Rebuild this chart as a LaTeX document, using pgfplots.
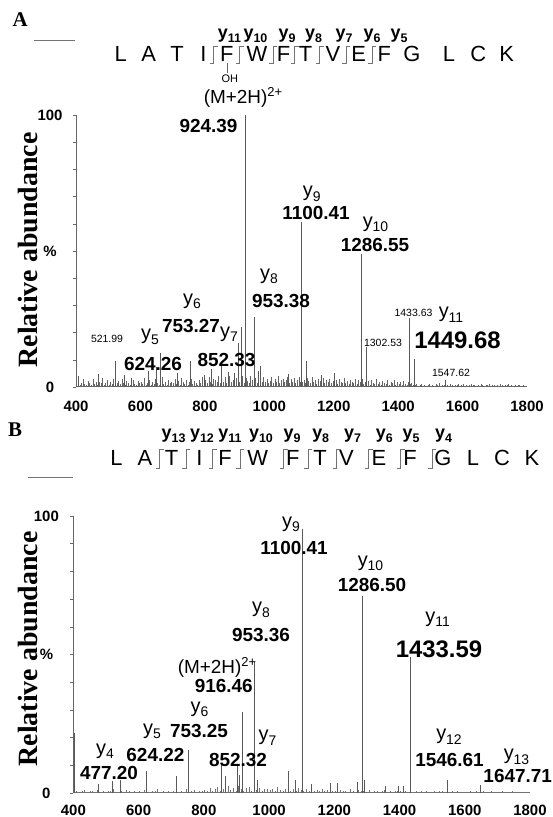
\documentclass[border=0pt]{standalone}
\usepackage{fontspec}
\setmainfont{Liberation Sans}
\newfontfamily\serifb{Liberation Serif}
\usepackage{pgfplots}
\pgfplotsset{compat=1.18}
\newcommand\fs[1]{\fontsize{#1}{#1}\selectfont}
\newcommand\yl[1]{y\raisebox{-4.5bp}{\fs{14}#1}}
\newcommand\yb[1]{y\raisebox{-3.5bp}{\fs{12.5}#1}}
\tikzset{lbl/.style={inner sep=0pt, outer sep=0pt, anchor=center}}
\pgfplotsset{msaxis/.style={
  anchor=south west, scale only axis,
  xmin=400, xmax=1800, ymin=0, ymax=100,
  axis y line*=left, axis x line*=bottom,
  x axis line style={draw=none},
  y axis line style={draw=black!60, line width=0.6bp, -},
  xtick={400,600,...,1800},
  xticklabels={400,600,800,1000,1200,1400,1600,1800},
  ytick={0,10,...,100},
  yticklabels={0,,,,,\%,,,,,100},
  xtick style={draw=none},
  ytick style={draw=black!60, line width=0.5bp},
  tick align=outside, major tick length=3bp,
  clip=false,
}}
\begin{document}
\begin{tikzpicture}
\useasboundingbox (0,0) rectangle (553bp,-817bp);

% ---------------- Panel A ----------------
\node[lbl,font=\serifb\bfseries\fs{21}] at (20.3bp,-19.5bp) {A};
\draw[black!55,line width=0.7bp] (33.7bp,-40bp) -- (75bp,-40bp);
\foreach \x/\c in {120.7/L,148.8/A,177/T,203.3/I,226.7/F,256.9/W,283.5/F,305.6/T,333/V,358.8/E,384.4/F,412/G,449/L,478.3/C,506.8/K}
  \node[lbl,font=\fs{22}] at (\x bp,-54bp) {\c};
\foreach \x in {213.5,239.5,273,294.5,319.5,346,372}
  \draw[black!55,line width=0.6bp] (\x bp-4bp,-63bp) -- (\x bp,-63bp) -- (\x bp,-46bp) -- (\x bp+4bp,-46bp);
\draw[black!60,line width=0.6bp] (226.8bp,-63.3bp) -- (226.8bp,-73bp);
\node[lbl,font=\fs{11}] at (229.8bp,-79bp) {OH};
\foreach \x/\n in {229.5/11,255.5/10,287/9,313.5/8,344/7,372/6,399/5}
  \node[lbl,font=\bfseries\fs{18}] at (\x bp,-36bp) {\yb{\n}};

\begin{axis}[msaxis, at={(76bp,-387bp)}, width=451bp, height=272bp,
  xticklabel style={font=\bfseries\fs{15}, anchor=center, yshift=-16bp},
  yticklabel style={font=\bfseries\fs{15}, anchor=center, xshift=-23bp}]
\addplot[ycomb, black!60, line width=0.42bp, mark=none] coordinates {
(402,1.2)(407,2.4)(412,0.8)(417,1.6)(422,3.1)(427,1.0)(432,0.6)(437,2.2)(442,1.4)(447,0.9)(452,2.8)(457,1.1)(462,1.7)(467,0.7)(472,2.0)(477,1.3)(482,3.4)(487,0.9)(492,1.5)(497,2.6)
(502,0.8)(507,1.9)(512,1.2)(517,2.9)(522,0.6)(527,1.4)(532,2.1)(537,1.0)(542,3.0)(547,1.6)(552,0.9)(557,2.3)(562,1.3)(567,0.7)(572,1.8)(577,2.7)(582,1.1)(587,0.8)(592,2.2)(597,1.5)
(602,2.0)(607,1.1)(612,3.3)(617,0.9)(622,1.6)(627,2.5)(632,0.7)(637,1.8)(642,1.2)(647,2.9)(652,1.4)(657,0.8)(662,2.2)(667,3.6)(672,1.0)(677,1.7)(682,0.6)(687,2.4)(692,1.3)(697,1.9)
(702,1.5)(707,2.8)(712,1.0)(717,2.1)(722,0.8)(727,3.2)(732,1.7)(737,1.2)(742,2.6)(747,0.9)(752,1.9)(757,3.0)(762,1.1)(767,2.3)(772,1.6)(777,0.7)(782,2.7)(787,1.4)(792,3.5)(797,1.2)
(802,2.6)(807,1.4)(812,3.8)(817,2.0)(822,1.2)(827,3.1)(832,2.4)(837,1.7)(842,4.2)(847,1.5)(852,2.9)(857,1.9)(862,3.6)(867,1.3)(872,2.2)(877,4.0)(882,1.8)(887,2.7)(892,1.6)(897,3.3)
(902,3.0)(907,1.8)(912,2.5)(917,4.1)(922,1.6)(927,3.4)(932,2.2)(937,1.4)(942,3.9)(947,2.7)(952,1.9)(957,3.2)(962,1.5)(967,4.4)(972,2.3)(977,1.7)(982,3.6)(987,2.0)(992,2.8)(997,1.6)
(1002,2.2)(1007,3.5)(1012,1.5)(1017,2.8)(1022,1.9)(1027,4.0)(1032,1.3)(1037,2.6)(1042,3.1)(1047,1.7)(1052,2.4)(1057,3.7)(1062,1.4)(1067,2.9)(1072,2.0)(1077,3.3)(1082,1.6)(1087,2.5)(1092,3.8)(1097,1.8)
(1102,1.9)(1107,2.7)(1112,1.3)(1117,3.2)(1122,2.1)(1127,1.5)(1132,3.6)(1137,1.8)(1142,2.4)(1147,1.2)(1152,3.0)(1157,2.2)(1162,1.6)(1167,3.4)(1172,1.4)(1177,2.6)(1182,1.9)(1187,3.1)(1192,1.3)(1197,2.3)
(1202,1.6)(1207,2.5)(1212,1.1)(1217,2.9)(1222,1.8)(1227,1.3)(1232,3.2)(1237,1.5)(1242,2.2)(1247,1.0)(1252,2.7)(1257,1.9)(1262,1.4)(1267,3.0)(1272,1.2)(1277,2.4)(1282,1.7)(1287,2.8)(1292,1.1)(1297,2.0)
(1302,1.3)(1307,2.1)(1312,0.9)(1317,2.6)(1322,1.5)(1327,1.1)(1332,2.8)(1337,1.2)(1342,1.9)(1347,0.8)(1352,2.3)(1357,1.6)(1362,1.0)(1367,2.5)(1372,0.9)(1377,2.0)(1382,1.4)(1387,2.4)(1392,0.8)(1397,1.7)
(1402,1.1)(1407,1.8)(1412,0.8)(1417,2.2)(1422,1.2)(1427,0.9)(1432,1.9)(1437,1.0)(1442,1.5)(1447,0.7)
(1452,0.6)(1457,1.0)(1462,0.4)(1467,0.8)(1472,1.2)(1477,0.5)(1482,0.9)(1487,0.3)(1492,0.7)(1497,1.1)
(1502,0.5)(1507,0.8)(1512,0.4)(1517,1.0)(1522,0.6)(1527,1.3)(1532,0.5)(1537,0.7)(1542,0.9)(1547,0.4)
(1552,0.8)(1557,0.5)(1562,1.1)(1567,0.6)(1572,0.3)(1577,0.9)(1582,0.7)(1587,1.2)(1592,0.4)(1597,0.6)
(1602,1.0)(1607,0.5)(1612,0.8)(1617,0.3)(1622,0.7)(1627,1.1)(1632,0.6)(1637,0.9)(1642,0.4)(1647,0.8)
(1652,0.5)(1657,1.2)(1662,0.6)(1667,0.4)(1672,0.9)(1677,0.7)(1682,1.0)(1687,0.3)(1692,0.6)(1697,0.8)
(1702,0.4)(1707,0.9)(1712,0.5)(1717,1.1)(1722,0.7)(1727,0.3)(1732,0.8)(1737,0.6)(1742,1.0)(1747,0.4)
(1752,0.7)(1757,0.5)(1762,0.9)(1767,0.3)(1772,0.6)(1777,0.8)(1782,0.4)(1787,0.7)(1792,0.5)(1797,0.3)
};
\addplot[black!60, line width=0.5bp, mark=none] coordinates {(400,0.4)(1800,0.4)};
\addplot[ycomb, black!65, line width=0.55bp, mark=none] coordinates {
(408,4)(470,4.8)(521.99,9.5)(549,4.5)(573,3.3)(624.26,5.8)(648,7.5)(663,12.5)(714,5)(753.27,9.4)(797,4.5)(819,6.5)(852.33,8.8)(874,5.5)(891,5)(903,16.3)(913,22)(924.39,100)(953.38,25.9)(965,6)(973,7.6)(1060,4.7)(1100.41,60.5)(1115,9.5)(1162,4.4)(1203,5)(1286.55,48.9)(1302.53,14.8)(1433.63,25.2)(1449.68,10.2)(1547.62,2.6)
};
\end{axis}
\node[lbl,rotate=90,font=\serifb\bfseries\fs{28}] at (28bp,-250bp) {Relative abundance};
\node[lbl,font=\fs{19}] at (243bp,-97bp) {(M+2H)\raisebox{7bp}{\fs{13}2+}};
\node[lbl,font=\bfseries\fs{19}] at (208.5bp,-125.7bp) {924.39};
\node[lbl,font=\fs{20}] at (311.8bp,-194bp) {\yl{9}};
\node[lbl,font=\bfseries\fs{19}] at (316bp,-213bp) {1100.41};
\node[lbl,font=\fs{20}] at (375.5bp,-224.5bp) {\yl{10}};
\node[lbl,font=\bfseries\fs{19}] at (375bp,-244.5bp) {1286.55};
\node[lbl,font=\fs{20}] at (269bp,-276.5bp) {\yl{8}};
\node[lbl,font=\bfseries\fs{19}] at (281bp,-301bp) {953.38};
\node[lbl,font=\fs{20}] at (192bp,-301.5bp) {\yl{6}};
\node[lbl,font=\bfseries\fs{19}] at (191bp,-325.5bp) {753.27};
\node[lbl,font=\fs{20}] at (229bp,-334bp) {\yl{7}};
\node[lbl,font=\bfseries\fs{19}] at (226.5bp,-359.5bp) {852.33};
\node[lbl,font=\fs{20}] at (150bp,-337bp) {\yl{5}};
\node[lbl,font=\bfseries\fs{19}] at (153bp,-364bp) {624.26};
\node[lbl,font=\fs{10.5}] at (107bp,-339bp) {521.99};
\node[lbl,font=\fs{10.5}] at (413.5bp,-313bp) {1433.63};
\node[lbl,font=\fs{20}] at (451bp,-314.5bp) {\yl{11}};
\node[lbl,font=\bfseries\fs{24}] at (457.5bp,-340.5bp) {1449.68};
\node[lbl,font=\fs{10.5}] at (383bp,-342.5bp) {1302.53};
\node[lbl,font=\fs{10.5}] at (451bp,-373bp) {1547.62};

% ---------------- Panel B ----------------
\node[lbl,font=\serifb\bfseries\fs{21}] at (15bp,-429.5bp) {B};
\draw[black!55,line width=0.7bp] (28.3bp,-477bp) -- (72.6bp,-477bp);
\foreach \x/\c in {116.5/L,145/A,171.5/T,199.5/I,225/F,257.8/W,292.8/F,320/T,346.5/V,379/E,410/F,443/G,473/L,502/C,532/K}
  \node[lbl,font=\fs{22}] at (\x bp,-458bp) {\c};
\foreach \x in {159.5,186,212.6,240,283.5,308,336.7,368.5,400.5,432}
  \draw[black!55,line width=0.6bp] (\x bp-4bp,-468bp) -- (\x bp,-468bp) -- (\x bp,-449bp) -- (\x bp+4bp,-449bp);
\foreach \x/\n in {173.6/13,202/12,230/11,261/10,292/9,320.7/8,352.6/7,384.4/6,411/5,443.6/4}
  \node[lbl,font=\bfseries\fs{18}] at (\x bp,-436bp) {\yb{\n}};

\begin{axis}[msaxis, at={(73.4bp,-793bp)}, width=456.6bp, height=277bp,
  xticklabel style={font=\bfseries\fs{15}, anchor=center, yshift=-14bp},
  yticklabel style={font=\bfseries\fs{15}, anchor=center, xshift=-24bp}]
\addplot[ycomb, black!55, line width=0.4bp, mark=none] coordinates {
(402,0.5)(410,0.9)(418,0.3)(426,0.7)(434,1.2)(442,0.4)(450,0.6)(458,0.8)(466,0.3)(474,1.0)(482,0.5)(490,0.7)(498,0.4)(506,0.9)(514,0.6)(522,1.4)(530,0.3)(538,0.5)(546,0.8)(554,0.4)(562,1.1)(570,0.6)(578,0.3)(586,0.9)(594,0.5)
(602,0.7)(610,0.4)(618,1.0)(626,0.5)(634,0.3)(642,0.8)(650,0.6)(658,1.3)(666,0.4)(674,0.7)(682,0.5)(690,0.9)(698,0.3)(706,0.6)(714,1.1)(722,0.4)(730,0.8)(738,0.5)(746,1.6)(754,0.3)(762,0.7)(770,1.0)(778,0.4)(786,0.6)(794,0.9)
(802,1.2)(810,0.8)(818,1.8)(826,0.6)(834,1.4)(842,2.2)(850,0.9)(858,1.5)(866,0.7)(874,2.6)(882,1.1)(890,1.9)(898,0.8)(906,2.4)(914,1.3)(922,0.9)(930,1.7)(938,2.1)(946,0.7)(954,1.4)(962,1.0)(970,1.8)(978,0.8)(986,1.3)(994,1.6)
(1002,1.0)(1010,1.6)(1018,0.7)(1026,2.0)(1034,1.2)(1042,0.8)(1050,1.5)(1058,2.3)(1066,0.9)(1074,1.3)(1082,0.6)(1090,1.8)(1098,1.1)(1106,0.7)(1114,1.4)(1122,0.9)(1130,1.7)(1138,0.6)(1146,1.2)(1154,0.8)(1162,1.5)(1170,0.7)(1178,1.1)(1186,0.9)(1194,0.6)
(1202,0.8)(1210,0.5)(1218,1.1)(1226,0.6)(1234,0.9)(1242,0.4)(1250,1.3)(1258,0.7)(1266,0.5)(1274,1.0)(1282,0.6)(1290,0.8)(1298,0.4)(1306,1.2)(1314,0.5)(1322,0.7)(1330,0.9)(1338,0.4)(1346,0.6)(1354,1.0)(1362,0.5)(1370,0.8)(1378,0.3)(1386,0.7)(1394,0.6)
(1402,0.6)(1410,0.4)(1418,0.8)(1426,0.3)(1434,0.7)(1442,0.5)(1450,0.9)(1458,0.4)(1466,0.6)(1474,0.3)(1482,0.8)(1490,0.5)(1498,0.4)(1506,0.7)(1514,0.3)(1522,0.6)(1530,0.9)(1538,0.4)(1546,0.5)(1554,0.3)(1562,0.7)(1570,0.4)(1578,0.6)(1586,0.5)(1594,0.3)
(1602,0.5)(1610,0.3)(1618,0.6)(1626,0.4)(1634,0.7)(1642,0.3)(1650,0.5)(1658,0.8)(1666,0.4)(1674,0.3)(1682,0.6)(1690,0.4)(1698,0.5)(1706,0.3)(1714,0.7)(1722,0.4)(1730,0.3)(1738,0.5)(1746,0.6)(1754,0.3)(1762,0.4)(1770,0.5)(1778,0.3)(1786,0.4)(1794,0.3)
};
\addplot[black!55, line width=0.4bp, mark=none] coordinates {(400,0.3)(1800,0.3)};
\addplot[ycomb, black!65, line width=0.55bp, mark=none] coordinates {
(402,21.7)(477.20,3.3)(520,4.5)(544,4.8)(624.22,8.1)(715,6)(753.25,15.6)(852.32,10.9)(865,6)(901,10.3)(908,6.5)(916.46,29.4)(953.36,47.4)(963,4.8)(1059,8.1)(1080,4.8)(1100.41,95.2)(1129,3.2)(1187,3.6)(1208,3.6)(1269,4)(1286.50,71.1)(1292,4.8)(1357,2.6)(1395,2.6)(1412,2.6)(1433.59,49.2)(1546.61,4.8)(1647.71,3)
};
\end{axis}
\node[lbl,rotate=90,font=\serifb\bfseries\fs{28}] at (27.5bp,-649bp) {Relative abundance};
\node[lbl,font=\fs{20}] at (291bp,-524.5bp) {\yl{9}};
\node[lbl,font=\bfseries\fs{19}] at (294bp,-547.5bp) {1100.41};
\node[lbl,font=\fs{20}] at (370.5bp,-563.5bp) {\yl{10}};
\node[lbl,font=\bfseries\fs{19}] at (372bp,-585bp) {1286.50};
\node[lbl,font=\fs{20}] at (261bp,-610bp) {\yl{8}};
\node[lbl,font=\bfseries\fs{19}] at (261bp,-634.5bp) {953.36};
\node[lbl,font=\fs{19}] at (217bp,-667.5bp) {(M+2H)\raisebox{7bp}{\fs{13}2+}};
\node[lbl,font=\bfseries\fs{19}] at (223.8bp,-685.5bp) {916.46};
\node[lbl,font=\fs{20}] at (199.5bp,-709.5bp) {\yl{6}};
\node[lbl,font=\bfseries\fs{19}] at (199bp,-730.5bp) {753.25};
\node[lbl,font=\fs{20}] at (152bp,-731.5bp) {\yl{5}};
\node[lbl,font=\bfseries\fs{19}] at (155.4bp,-754.5bp) {624.22};
\node[lbl,font=\fs{20}] at (105bp,-751bp) {\yl{4}};
\node[lbl,font=\bfseries\fs{19}] at (109bp,-772.5bp) {477.20};
\node[lbl,font=\fs{20}] at (267.5bp,-737.5bp) {\yl{7}};
\node[lbl,font=\bfseries\fs{19}] at (238bp,-759.5bp) {852.32};
\node[lbl,font=\fs{20}] at (437.7bp,-619bp) {\yl{11}};
\node[lbl,font=\bfseries\fs{24}] at (439bp,-649bp) {1433.59};
\node[lbl,font=\fs{20}] at (449bp,-736.5bp) {\yl{12}};
\node[lbl,font=\bfseries\fs{19}] at (449.5bp,-760bp) {1546.61};
\node[lbl,font=\fs{20}] at (516.5bp,-757bp) {\yl{13}};
\node[lbl,font=\bfseries\fs{19}] at (517.7bp,-775.5bp) {1647.71};
\end{tikzpicture}
\end{document}
